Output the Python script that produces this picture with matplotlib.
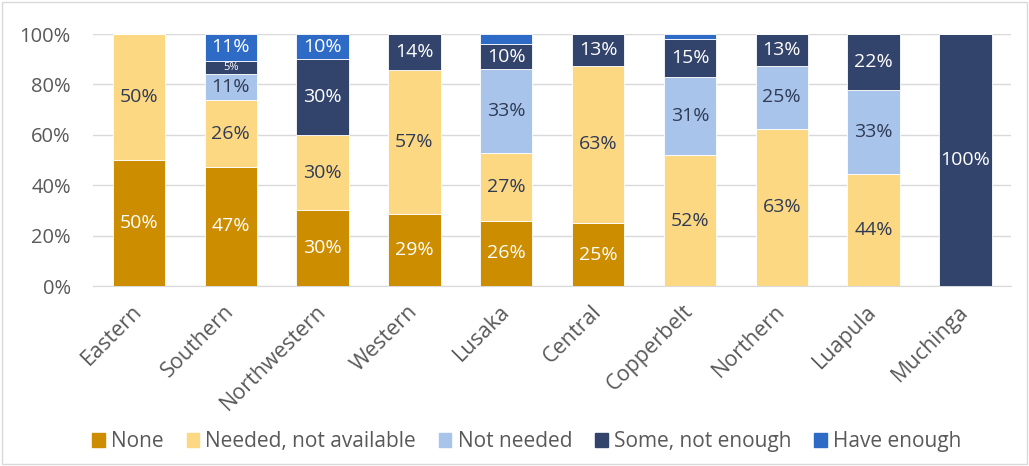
import matplotlib
matplotlib.use("Agg")
import matplotlib.pyplot as plt
from matplotlib.patches import Rectangle
import numpy as np

plt.rcParams['font.family'] = ['Open Sans', 'DejaVu Sans']

regions = ["Eastern", "Southern", "Northwestern", "Western", "Lusaka",
           "Central", "Copperbelt", "Northern", "Luapula", "Muchinga"]
series_names = ["None", "Needed, not available", "Not needed",
                "Some, not enough", "Have enough"]
# shares of respondents per region, in percent
none_vals = [50, 47.37, 30, 28.57, 26, 25, 0, 0, 0, 0]
needed_vals = [50, 26.32, 30, 57.14, 27, 62.5, 52, 62.5, 44.44, 0]
not_needed_vals = [0, 10.53, 0, 0, 33, 0, 31, 25, 33.33, 0]
some_vals = [0, 5.26, 30, 14.29, 10, 12.5, 15, 12.5, 22.22, 100]
enough_vals = [0, 10.53, 10, 0, 4, 0, 2, 0, 0, 0]

colors = ["#CC8E00", "#FDD883", "#A9C4EB", "#33446C", "#2E6BC6"]
text_colors = ["white", "#2F3B55", "#2F3B55", "white", "white"]

fig = plt.figure(figsize=(10.29, 4.66), dpi=100)
ax = fig.add_axes([0.0904, 0.386, 0.8925, 0.541])

x = np.arange(len(regions))
width = 0.57
bottom = np.zeros(len(regions))
all_vals = [none_vals, needed_vals, not_needed_vals, some_vals, enough_vals]
for vals, name, c, tc in zip(all_vals, series_names, colors, text_colors):
    v = np.array(vals, dtype=float)
    ax.bar(x, v, width, bottom=bottom, color=c, label=name, zorder=3,
           edgecolor="white", linewidth=0.6)
    for xi, b, val in zip(x, bottom, v):
        if val >= 5:
            fs = 8 if val < 8 else 14
            ax.text(xi, b + val / 2, f"{int(np.floor(val + 0.5))}%",
                    ha="center", va="center", color=tc, fontsize=fs, zorder=4)
    bottom += v

ax.set_ylim(0, 100)
ax.set_xlim(-0.5, len(regions) - 0.5)
ax.set_yticks(np.arange(0, 101, 20))
ax.set_yticklabels([f"{t}%" for t in range(0, 101, 20)], fontsize=14.5, color="#595959")
ax.set_xticks(x)
ax.set_xticklabels(regions, rotation=45, ha="right", va="center",
                   rotation_mode="anchor", fontsize=15.5, color="#595959")
ax.tick_params(axis="y", length=0, pad=16)
ax.tick_params(axis="x", length=0, pad=16)
ax.grid(axis="y", color="#D9D9D9", linewidth=1, zorder=0)
for s in ["top", "right", "left"]:
    ax.spines[s].set_visible(False)
ax.spines["bottom"].set_color("#D9D9D9")

handles = [Rectangle((0, 0), 1, 1, color=c) for c in colors]
fig.legend(handles, series_names, loc="center", bbox_to_anchor=(0.512, 0.052),
           ncol=5, frameon=False, fontsize=15, handlelength=0.6,
           handleheight=0.6, handletextpad=0.3, columnspacing=1.1,
           labelcolor="#595959")

fig.patches.append(Rectangle((0.002, 0.004), 0.996, 0.992, transform=fig.transFigure,
                             fill=False, edgecolor="#D9D9D9", linewidth=1))

fig.savefig("out.png", dpi=100)
